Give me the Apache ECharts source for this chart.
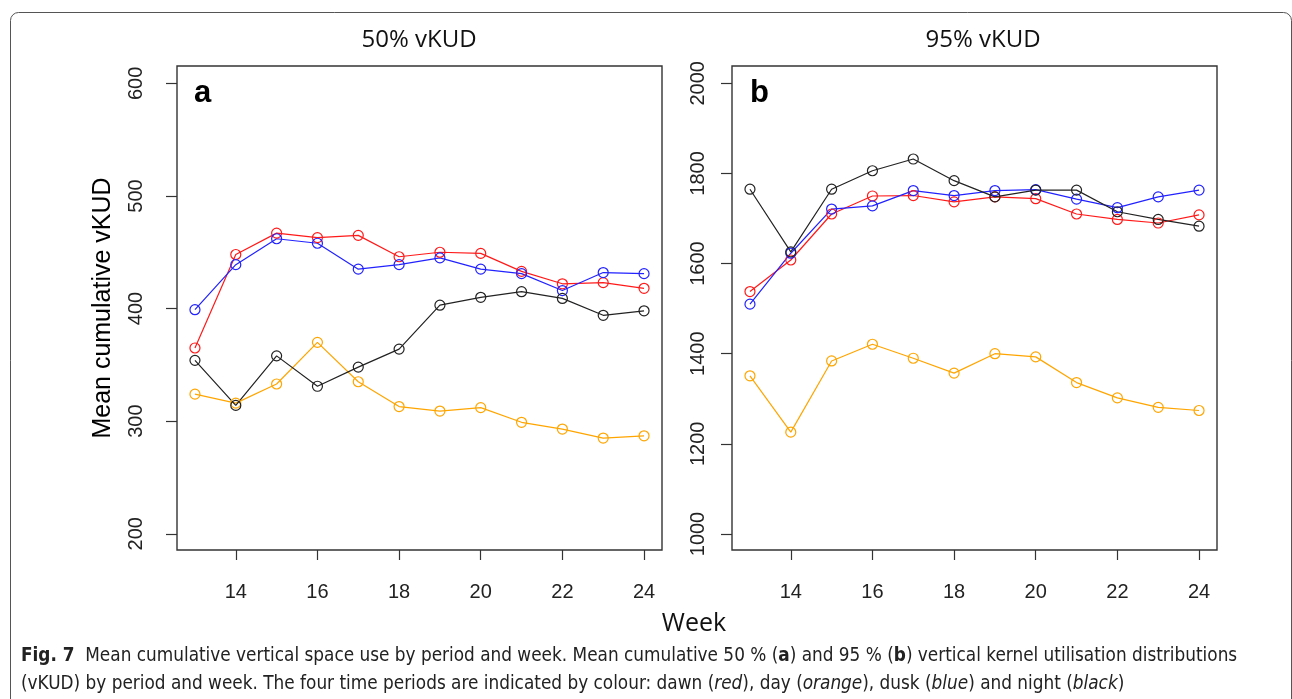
<!DOCTYPE html>
<html>
<head>
<meta charset="utf-8">
<script src="https://cdn.jsdelivr.net/npm/echarts@6/dist/echarts.min.js"></script>
<style>
html, body { margin: 0; padding: 0; background: #fff; }
#main { width: 1292px; height: 699px; }
</style>
</head>
<body>
<div id="main"></div>
<script>
// weeks and tick values
var weeks = [13, 14, 15, 16, 17, 18, 19, 20, 21, 22, 23, 24];
var weekTicks = [14, 16, 18, 20, 22, 24];
var ticksA = [200, 300, 400, 500, 600];
var ticksB = [1000, 1200, 1400, 1600, 1800, 2000];

// panel a: 50% vKUD
var dawnA = [365, 448, 467, 463, 465, 446, 450, 449, 433, 422, 423, 418];
var dayA = [324, 316, 333, 370, 335, 313, 309, 312, 299, 293, 285, 287];
var duskA = [399, 439, 462, 458, 435, 439, 445, 435, 431, 416, 432, 431];
var nightA = [354, 314, 358, 331, 348, 364, 403, 410, 415, 409, 394, 398];

// panel b: 95% vKUD
var dawnB = [1538, 1608, 1710, 1750, 1751, 1737, 1748, 1744, 1710, 1698, 1690, 1708];
var dayB = [1351, 1226, 1384, 1421, 1390, 1357, 1400, 1393, 1336, 1302, 1281, 1274];
var duskB = [1510, 1623, 1721, 1728, 1762, 1751, 1762, 1764, 1743, 1724, 1748, 1763];
var nightB = [1765, 1626, 1765, 1806, 1832, 1784, 1748, 1763, 1763, 1715, 1698, 1683];

var periodColors = { dawn: '#ff1a1a', day: '#ffa500', dusk: '#2222ff', night: '#222222' };

var chart = echarts.init(document.getElementById('main'), null, { renderer: 'canvas' });

function pairs(vals) {
    return weeks.map(function (w, i) { return [w, vals[i]]; });
}

function lineSeries(vals, color, idx) {
    return {
        type: 'line',
        xAxisIndex: idx,
        yAxisIndex: idx,
        data: pairs(vals),
        symbol: 'circle',
        symbolSize: 10,
        showSymbol: true,
        silent: true,
        lineStyle: { color: color, width: 1.2 },
        itemStyle: { color: 'rgba(255,255,255,0)', borderColor: color, borderWidth: 1.2 },
        emphasis: { disabled: true }
    };
}

var tickStyle = { color: '#333', width: 1.2 };
var numFont = '"Liberation Sans", Arial, sans-serif';
var titleFont = '"Open Sans", "Noto Sans", sans-serif';

function plain(v) {
    return String(v);
}

function xAxisFor(idx) {
    return {
        type: 'value',
        gridIndex: idx,
        min: 12.56,
        max: 24.44,
        axisLine: { show: false },
        splitLine: { show: false },
        axisTick: { show: true, length: 10, lineStyle: tickStyle, customValues: weekTicks },
        axisLabel: { fontSize: 20, color: '#222', fontFamily: numFont, margin: 32, customValues: weekTicks, formatter: plain }
    };
}

function yAxisFor(idx, min, max, ticks, margin) {
    return {
        type: 'value',
        gridIndex: idx,
        min: min,
        max: max,
        axisLine: { show: false },
        splitLine: { show: false },
        axisTick: { show: true, length: 11, lineStyle: tickStyle, customValues: ticks },
        axisLabel: { fontSize: 20, color: '#222', fontFamily: numFont, rotate: 90, margin: margin, customValues: ticks, formatter: plain }
    };
}

// caption font size fitted to the printed width
var capFamily = '"Liberation Sans Narrow", "DejaVu Sans Condensed", "Open Sans", sans-serif';
var capLine1 = 'Fig. 7  Mean cumulative vertical space use by period and week. Mean cumulative 50 % (a) and 95 % (b) vertical kernel utilisation distributions';
var ctx = document.createElement('canvas').getContext('2d');
ctx.font = '20px ' + capFamily;
var capSize = Math.min(20, 20 * 1207 / ctx.measureText(capLine1).width);

var capRich = {
    b: { fontWeight: 'bold', fontSize: capSize, fontFamily: capFamily, fill: '#222' },
    i: { fontStyle: 'italic', fontSize: capSize, fontFamily: capFamily, fill: '#222' }
};

var option = {
    animation: false,
    backgroundColor: '#fff',
    grid: [
        { left: 177, top: 66, width: 485, height: 484, show: true, borderColor: '#333', borderWidth: 1.4, backgroundColor: 'transparent' },
        { left: 732, top: 66, width: 485, height: 484, show: true, borderColor: '#333', borderWidth: 1.4, backgroundColor: 'transparent' }
    ],
    xAxis: [xAxisFor(0), xAxisFor(1)],
    yAxis: [
        yAxisFor(0, 185.6, 615.4, ticksA, 31),
        yAxisFor(1, 964.5, 2038.4, ticksB, 24)
    ],
    series: [
        lineSeries(dawnA, periodColors.dawn, 0),
        lineSeries(dayA, periodColors.day, 0),
        lineSeries(duskA, periodColors.dusk, 0),
        lineSeries(nightA, periodColors.night, 0),
        lineSeries(dawnB, periodColors.dawn, 1),
        lineSeries(dayB, periodColors.day, 1),
        lineSeries(duskB, periodColors.dusk, 1),
        lineSeries(nightB, periodColors.night, 1)
    ],
    graphic: [
        {
            type: 'rect', silent: true, z: -1,
            shape: { x: 10.5, y: 12.5, width: 1281, height: 720, r: 8 },
            style: { fill: 'none', stroke: '#555', lineWidth: 1 }
        },
        {
            type: 'text', x: 419, y: 40,
            style: { text: '50% vKUD', font: '24px ' + titleFont, fill: '#111', textAlign: 'center', textVerticalAlign: 'middle' }
        },
        {
            type: 'text', x: 983, y: 40,
            style: { text: '95% vKUD', font: '24px ' + titleFont, fill: '#111', textAlign: 'center', textVerticalAlign: 'middle' }
        },
        {
            type: 'text', x: 194, y: 93,
            style: { text: 'a', font: 'bold 31px ' + numFont, fill: '#000', textAlign: 'left', textVerticalAlign: 'middle' }
        },
        {
            type: 'text', x: 750, y: 93,
            style: { text: 'b', font: 'bold 31px ' + numFont, fill: '#000', textAlign: 'left', textVerticalAlign: 'middle' }
        },
        {
            type: 'text', x: 103, y: 308, rotation: Math.PI / 2,
            style: { text: 'Mean cumulative vKUD', font: '25px ' + numFont, fill: '#000', textAlign: 'center', textVerticalAlign: 'middle' }
        },
        {
            type: 'text', x: 694, y: 624,
            style: { text: 'Week', font: '25px ' + titleFont, fill: '#111', textAlign: 'center', textVerticalAlign: 'middle' }
        },
        {
            type: 'text', x: 21, y: 656,
            style: {
                text: '{b|Fig. 7}  Mean cumulative vertical space use by period and week. Mean cumulative 50 % ({b|a}) and 95 % ({b|b}) vertical kernel utilisation distributions',
                fontSize: capSize, fontFamily: capFamily, fill: '#222', textVerticalAlign: 'middle', rich: capRich
            }
        },
        {
            type: 'text', x: 21, y: 684,
            style: {
                text: '(vKUD) by period and week. The four time periods are indicated by colour: dawn ({i|red}), day ({i|orange}), dusk ({i|blue}) and night ({i|black})',
                fontSize: capSize, fontFamily: capFamily, fill: '#222', textVerticalAlign: 'middle', rich: capRich
            }
        }
    ]
};

chart.setOption(option);
window.addEventListener('resize', function () {
    chart.resize();
});
</script>
</body>
</html>
